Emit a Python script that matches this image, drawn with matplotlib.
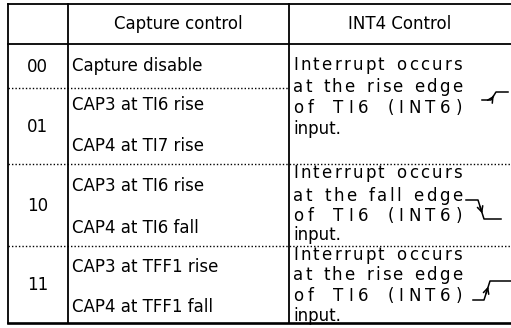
import matplotlib
matplotlib.use("Agg")
from matplotlib import pyplot as plt

# table contents
header = ["", "Capture control", "INT4 Control"]
codes = ["00", "01", "10", "11"]
capture = [
    ["Capture disable"],
    ["CAP3 at TI6 rise", "CAP4 at TI7 rise"],
    ["CAP3 at TI6 rise", "CAP4 at TI6 fall"],
    ["CAP3 at TFF1 rise", "CAP4 at TFF1 fall"],
]
int4 = [
    ["Interrupt occurs", "at the rise edge", "of TI6 (INT6)", "input."],
    ["Interrupt occurs", "at the fall edge", "of TI6 (INT6)", "input."],
    ["Interrupt occurs", "at the rise edge", "of TI6 (INT6)", "input."],
]

W, H = 511, 328
fig = plt.figure(figsize=(W / 100, H / 100), dpi=100)
ax = fig.add_axes([0, 0, 1, 1])
ax.set_xlim(0, W)
ax.set_ylim(H, 0)
ax.axis("off")

plt.rcParams["font.family"] = "DejaVu Sans"
fs = 12
lw = 1.3

# grid
x0, x1, x2, x3 = 7.5, 68, 289, 512
top, head, bot = 4, 44, 323
code_rows = [(44, 88), (88, 164), (164, 246), (246, 323)]

ax.plot([x0, x3], [top, top], color="k", lw=lw)
ax.plot([x0, x3], [head, head], color="k", lw=lw)
ax.plot([x0, x3], [bot, bot], color="k", lw=lw + 0.6)
for x in (x0, x1, x2):
    ax.plot([x, x], [top, bot], color="k", lw=lw)
ax.plot([x0, x2], [88, 88], color="k", lw=1, ls=(0, (1, 1.5)))
ax.plot([x0, x3], [164, 164], color="k", lw=1, ls=(0, (1, 1.5)))
ax.plot([x0, x3], [246, 246], color="k", lw=1, ls=(0, (1, 1.5)))

# header
ax.text((x1 + x2) / 2, 24, header[1], ha="center", va="center", fontsize=fs)
ax.text((x2 + 511) / 2, 24, header[2], ha="center", va="center", fontsize=fs)

# code + capture column
cap_y = [[66], [105, 146], [186, 228], [267, 307]]
for (ya, yb), code, texts, ys in zip(code_rows, codes, capture, cap_y):
    ax.text((x0 + x1) / 2, (ya + yb) / 2 + 1, code, ha="center", va="center", fontsize=fs)
    for t, y in zip(texts, ys):
        ax.text(x1 + 4, y, t, ha="left", va="center", fontsize=fs)

# INT4 column: letter-spaced and justified between xa and xb
renderer = fig.canvas.get_renderer()
space_w = ax.text(0, 0, "a a", fontsize=fs).get_window_extent(renderer).width \
    - ax.text(0, 0, "aa", fontsize=fs).get_window_extent(renderer).width
ax.texts[-1].remove()
ax.texts[-1].remove()


def justify(line, y, xa, xb, word_gap=3.0):
    words = line.split()
    arts, widths = [], []
    for w in words:
        row = [ax.text(0, y, ch, ha="left", va="center", fontsize=fs) for ch in w]
        arts.append(row)
        widths.append([a.get_window_extent(renderer).width for a in row])
    total = sum(sum(ws) for ws in widths) + space_w * (len(words) - 1)
    n_letter = sum(len(w) - 1 for w in words)
    g = (xb - xa - total) / (n_letter + word_gap * (len(words) - 1))
    x = xa
    for i, (row, ws) in enumerate(zip(arts, widths)):
        for j, (a, w) in enumerate(zip(row, ws)):
            a.set_x(x)
            x += w + (g if j < len(row) - 1 else 0)
        x += space_w + word_gap * g


int_y = [[65, 87, 108, 129], [173, 196, 216, 235], [255, 275, 296, 316]]
for texts, ys in zip(int4, int_y):
    for t, y in zip(texts, ys):
        if t == "input.":
            ax.text(x2 + 4, y, t, ha="left", va="center", fontsize=fs)
        else:
            justify(t, y, x2 + 4, 462)

# edge symbols
def edge(xs, ya, yb):
    a, b, c, d = xs
    ax.plot([a, b, c, d], [ya, ya, yb, yb], color="k", lw=1.1)
    ax.annotate("", xy=(b + (c - b) * 0.85, ya + (yb - ya) * 0.85),
                xytext=(b + (c - b) * 0.2, ya + (yb - ya) * 0.2),
                arrowprops=dict(arrowstyle="->", color="k", lw=1.1, mutation_scale=10))


edge((482, 491, 496, 508), 100, 92)
edge((466, 478, 484, 501), 200, 219)
edge((473, 484, 490, 511), 300, 281)

fig.savefig("out.png", dpi=100)
